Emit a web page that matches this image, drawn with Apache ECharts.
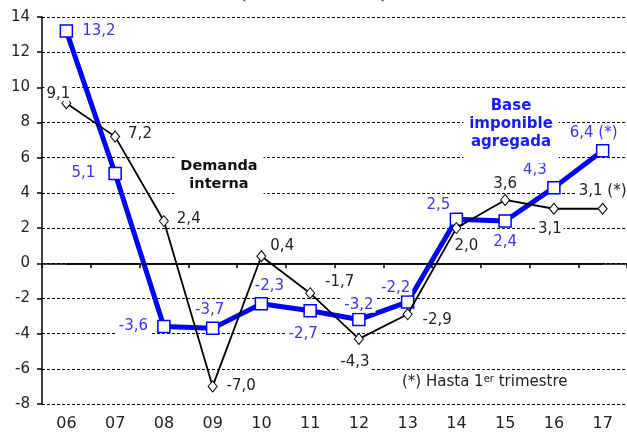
<!DOCTYPE html>
<html>
<head>
<meta charset="utf-8">
<script src="https://cdn.jsdelivr.net/npm/echarts@6/dist/echarts.min.js"></script>
<style>
  html, body { margin: 0; padding: 0; background: #fff; }
  #chart { width: 627px; height: 438px; }
</style>
</head>
<body>
<div id="chart"></div>
<script>
// años (eje X)
var years = ['06', '07', '08', '09', '10', '11', '12', '13', '14', '15', '16', '17'];
// Base imponible agregada (azul)
var baseImponible = [13.2, 5.1, -3.6, -3.7, -2.3, -2.7, -3.2, -2.2, 2.5, 2.4, 4.3, 6.4];
// Demanda interna (negro)
var demandaInterna = [9.1, 7.2, 2.4, -7.0, 0.4, -1.7, -4.3, -2.9, 2.0, 3.6, 3.1, 3.1];
var yTicks = [-8, -6, -4, -2, 0, 2, 4, 6, 8, 10, 12, 14];

// posicion de cada etiqueta (solo estilo)
var bluePos = [
  ['right', [3, 0]], ['left', [-7, 0]], ['left', [-3, 0]], ['top', [-3, 0]],
  ['top', [8, 1]], ['bottom', [-7, 5]], ['top', [0, 4]], ['top', [-12, 4]],
  ['top', [-18, 4]], ['bottom', [0, 3]], ['top', [-19, 1]], ['top', [-9, 1]]
];
var blackPos = [
  ['top', [-8, 8]], ['right', [2, -3]], ['right', [2, -2]], ['right', [3, 0]],
  ['right', [-2, -10]], ['right', [4, -11]], ['bottom', [-4, 6]], ['right', [4, 6]],
  ['bottom', [10, 0]], ['top', [0, 2]], ['bottom', [-4, 3]], ['top', [0, 0]]
];

function fmt (v, last) {
  var s = v.toFixed(1).replace('.', ',');
  return last ? s + ' (*)' : s;
}

function buildData (values, pos) {
  return values.map(function (v, i) {
    return {
      value: v,
      label: {
        position: pos[i][0],
        offset: pos[i][1],
        formatter: fmt(v, i === values.length - 1)
      }
    };
  });
}

var chart = echarts.init(document.getElementById('chart'));

var option = {
  animation: false,
  textStyle: { fontFamily: 'DejaVu Sans' },
  grid: { left: 42, right: 0, top: 17, bottom: 34 },
  xAxis: {
    type: 'category',
    data: years,
    boundaryGap: true,
    axisLine: { lineStyle: { color: '#000', width: 1.5 } },
    axisTick: { show: true, length: 5, lineStyle: { color: '#000', width: 1.5 } },
    axisLabel: { color: '#222', fontSize: 16, margin: 12 },
    splitLine: { show: false }
  },
  yAxis: {
    type: 'value',
    min: yTicks[0],
    max: yTicks[yTicks.length - 1],
    interval: 2,
    axisLine: { show: true, lineStyle: { color: '#000', width: 1.5 } },
    axisTick: { show: true, length: 5, lineStyle: { color: '#000', width: 1.5 } },
    axisLabel: { color: '#222', fontSize: 15, margin: 12 },
    splitLine: { lineStyle: { color: '#000', width: 1, type: [3, 2] } }
  },
  series: [
    {
      name: 'Base imponible agregada',
      type: 'line',
      data: buildData(baseImponible, bluePos),
      symbol: 'rect',
      symbolSize: 12,
      lineStyle: { color: '#0000ff', width: 5 },
      itemStyle: { color: '#fff', borderColor: '#0000ff', borderWidth: 1.5 },
      label: {
        show: true,
        color: '#3535f0',
        fontSize: 15,
        distance: 4,
        backgroundColor: '#fff',
        padding: [0, 2]
      },
      markLine: {
        silent: true,
        symbol: 'none',
        label: { show: false },
        lineStyle: { color: '#000', width: 1.5, type: 'solid' },
        data: [[{ xAxis: years[0], yAxis: 0 }, { xAxis: years[years.length - 1], yAxis: 0 }]]
      },
      z: 2
    },
    {
      name: 'Demanda interna',
      type: 'line',
      data: buildData(demandaInterna, blackPos),
      symbol: 'diamond',
      symbolSize: [9, 11],
      lineStyle: { color: '#000', width: 1.8 },
      itemStyle: { color: '#fff', borderColor: '#000', borderWidth: 1 },
      label: {
        show: true,
        color: '#222',
        fontSize: 15,
        distance: 4,
        backgroundColor: '#fff',
        padding: [0, 2]
      },
      z: 3
    }
  ],
  graphic: [
    {
      type: 'text',
      left: 'center',
      top: -10,
      style: {
        text: '(tasas de variación)',
        font: 'bold 13px "DejaVu Sans"',
        fill: '#4a5a10'
      }
    },
    {
      type: 'text',
      x: 219,
      y: 155,
      z: 10,
      style: {
        text: 'Demanda\ninterna',
        font: 'bold 14.5px "DejaVu Sans"',
        fill: '#111',
        align: 'center',
        lineHeight: 18,
        backgroundColor: '#fff',
        padding: [2, 6, 4, 6]
      }
    },
    {
      type: 'text',
      x: 511,
      y: 95,
      z: 10,
      style: {
        text: 'Base\nimponible\nagregada',
        font: 'bold 15px "DejaVu Sans"',
        fill: '#1a1aff',
        align: 'center',
        lineHeight: 18,
        backgroundColor: '#fff',
        padding: [2, 6, 12, 6]
      }
    },
    {
      type: 'text',
      x: 400,
      y: 374,
      z: 10,
      style: {
        text: '{n|(*) Hasta 1}{s|er}{n| trimestre}',
        rich: {
          n: { fontFamily: 'DejaVu Sans', fill: '#222', fontSize: 15 },
          s: { fontFamily: 'DejaVu Sans', fill: '#222', fontSize: 10, verticalAlign: 'top', padding: [0, 0, 6, 0] }
        },
        backgroundColor: '#fff',
        padding: [0, 2]
      }
    }
  ]
};

chart.setOption(option);
</script>
</body>
</html>
